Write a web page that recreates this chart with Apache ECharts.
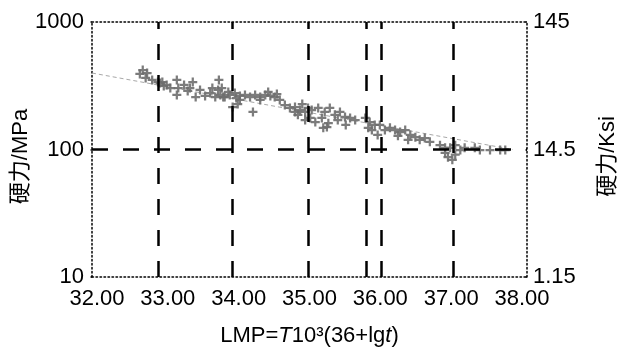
<!DOCTYPE html>
<html>
<head>
<meta charset="utf-8">
<script src="https://cdn.jsdelivr.net/npm/echarts@6/dist/echarts.min.js"></script>
<style>html,body{margin:0;padding:0;background:#fff;}#c{width:619px;height:351px;}</style>
</head>
<body>
<div id="c"></div>
<script>
// ---- data ----
const xTicks = [32, 33, 34, 35, 36, 37, 38];
const leftTickValues = [10, 100, 1000];
const leftTickLabels = ['10', '100', '1000'];
const rightTickLabels = ['1.15', '14.5', '145'];
const refLinesX = [32.92, 33.94, 34.98, 35.78, 35.99, 36.98];
const refLineY = [100];
const fitX = [32.0, 37.8];
const fitY = [398, 100];
const lmp = [32.70,32.76,32.74,32.66,32.83,32.91,32.94,32.97,32.99,33.03,33.08,
  33.17,33.19,33.17,33.27,33.35,33.39,33.32,33.43,33.49,33.56,33.63,33.70,33.77,33.79,33.83,33.88,33.74,33.66,33.75,
  33.81,33.90,33.97,33.99,34.04,34.04,34.11,34.01,33.94,34.22,
  34.18,34.25,34.32,34.39,34.46,34.52,34.59,34.32,34.43,34.55,
  34.66,34.73,34.80,34.87,34.94,34.84,34.94,35.01,34.80,34.90,34.98,
  35.03,35.12,35.21,35.28,35.35,35.42,35.49,35.56,35.63,35.17,35.26,35.39,35.50,35.08,35.19,35.24,
  35.77,35.83,35.90,35.97,36.04,35.86,35.94,35.81,
  36.11,36.18,36.25,36.32,36.39,36.46,36.52,36.22,36.36,36.59,
  36.66,36.80,36.87,36.94,37.01,37.08,36.87,36.91,36.97,37.01,
  37.14,37.28,37.35,37.49,37.63,37.70];
const stress = [420,398,364,391,351,338,332,338,315,321,303,
  351,303,268,321,303,338,288,258,293,263,277,258,268,303,258,283,293,303,351,
  258,268,277,253,263,245,268,227,215,197,
  258,268,258,268,263,258,245,245,283,272,
  223,212,215,204,197,187,170,177,197,227,212,
  204,212,197,212,187,197,180,177,170,177,161,170,156,164,148,150,
  177,164,156,156,142,142,130,148,
  148,142,137,142,130,125,119,128,119,123,
  115,108,103,103,108,99,94,87,83,91,
  103,103,99,99,99,99];

// ---- chart ----
const FONT = '"Liberation Sans", Arial, "Noto Sans CJK SC", sans-serif';
const chart = echarts.init(document.getElementById('c'), null, {renderer: 'canvas'});
const dotted = {color: '#000', width: 1.5, type: [1.5, 2.5]};
const scatterData = lmp.map((x, i) => [x, stress[i]]);
const fitData = fitX.map((x, i) => [x, fitY[i]]);
const plus = 'path://M3,0H5V3H8V5H5V8H3V5H0V3H3Z';
const tickIndex = v => leftTickValues.findIndex(t => Math.abs(t - v) < 1e-6 * t);

chart.setOption({
  animation: false,
  backgroundColor: '#fff',
  textStyle: {fontFamily: FONT, color: '#000'},
  grid: [
    {left: 92, right: 92, top: 22, bottom: 74, containLabel: false, outerBoundsMode: 'none'},
    {left: 97, right: 97, top: 22, bottom: 74, containLabel: false, outerBoundsMode: 'none'}
  ],
  xAxis: [
    {type: 'value', gridIndex: 0, position: 'bottom', min: xTicks[0], max: xTicks[xTicks.length - 1],
     splitLine: {show: false}, axisTick: {show: false}, axisLabel: {show: false},
     axisLine: {show: true, lineStyle: dotted}},
    {type: 'value', gridIndex: 0, position: 'top', min: xTicks[0], max: xTicks[xTicks.length - 1],
     splitLine: {show: false}, axisTick: {show: false}, axisLabel: {show: false},
     axisLine: {show: true, lineStyle: dotted}},
    {type: 'value', gridIndex: 1, position: 'bottom', min: xTicks[0], max: xTicks[xTicks.length - 1], interval: 1,
     splitLine: {show: false}, axisTick: {show: false}, axisLine: {show: false},
     axisLabel: {show: true, fontSize: 22, color: '#000', fontFamily: FONT, margin: 11,
       formatter: v => v.toFixed(2)},
     name: '{n|LMP=}{i|T}{n|10³(36+lg}{i|t}{n|)}', nameLocation: 'middle', nameGap: 48,
     nameMoveOverlap: false,
     nameTextStyle: {rich: {
       n: {fontSize: 22, fontFamily: FONT, color: '#000'},
       i: {fontSize: 22, fontFamily: FONT, color: '#000', fontStyle: 'italic'}
     }}}
  ],
  yAxis: [
    {type: 'log', logBase: 10, gridIndex: 0, position: 'left', min: leftTickValues[0], max: leftTickValues[2],
     splitLine: {show: false}, minorTick: {show: false},
     axisLine: {show: true, lineStyle: dotted},
     axisTick: {show: true, length: 4, lineStyle: dotted},
     axisLabel: {fontSize: 22, color: '#000', fontFamily: FONT, margin: 8, padding: [0, 0, 11, 0],
       formatter: v => leftTickLabels[tickIndex(v)] || ''},
     name: '硬力/MPa', nameLocation: 'middle', nameRotate: 90, nameGap: 60, nameMoveOverlap: false,
     nameTextStyle: {fontSize: 22, fontFamily: FONT, color: '#000', padding: [0, 14, 0, 0]}},
    {type: 'log', logBase: 10, gridIndex: 0, position: 'right', min: leftTickValues[0], max: leftTickValues[2],
     splitLine: {show: false}, minorTick: {show: false},
     axisLine: {show: true, lineStyle: dotted},
     axisTick: {show: true, length: 4, inside: true, lineStyle: dotted},
     axisLabel: {fontSize: 22, color: '#000', fontFamily: FONT, margin: 6,
       formatter: v => rightTickLabels[tickIndex(v)] || ''},
     name: '硬力/Ksi', nameLocation: 'middle', nameRotate: 90, nameGap: 70, nameMoveOverlap: false,
     nameTextStyle: {fontSize: 22, fontFamily: FONT, color: '#000', padding: [0, 14, 0, 0]}},
    {type: 'value', gridIndex: 1, show: false, min: 0, max: 1}
  ],
  series: [
    {type: 'line', xAxisIndex: 0, yAxisIndex: 0, data: fitData, symbol: 'none', silent: true,
     lineStyle: {color: '#a8a8a8', width: 1, type: [4, 3]}, z: 2,
     markLine: {silent: true, symbol: 'none', label: {show: false},
       lineStyle: {color: '#000', width: 2.5, type: [16, 15]},
       data: refLinesX.map(v => ({xAxis: v})).concat(refLineY.map(v => ({yAxis: v})))}},
    {type: 'scatter', xAxisIndex: 0, yAxisIndex: 0, data: scatterData, symbol: plus, symbolSize: 9,
     itemStyle: {color: '#6e6e6e', opacity: 0.9}, z: 3}
  ]
});
</script>
</body>
</html>
